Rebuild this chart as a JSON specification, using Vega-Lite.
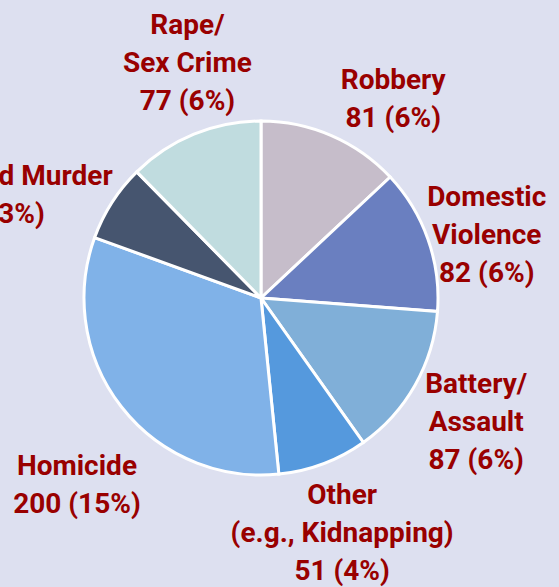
{
  "$schema": "https://vega.github.io/schema/vega-lite/v6.json",
  "width": 522,
  "height": 578,
  "autosize": {"type": "none"},
  "padding": {"left": 0, "top": 9, "right": 37, "bottom": 0},
  "background": "#dde0f0",
  "config": {"view": {"stroke": null}, "text": {"font": "Roboto", "fontWeight": "bold", "fontSize": 28, "lineBreak": "\n", "lineHeight": 38, "color": "#990000", "align": "center", "baseline": "middle"}},
  "data": {
    "values": [
      {"category": "Robbery", "value": 81, "order": 1, "label": "Robbery\n81 (6%)"},
      {"category": "Domestic Violence", "value": 82, "order": 2, "label": "Domestic\nViolence\n82 (6%)"},
      {"category": "Battery/Assault", "value": 87, "order": 3, "label": "Battery/\nAssault\n87 (6%)"},
      {"category": "Other", "value": 51, "order": 4, "label": "Other\n(e.g., Kidnapping)\n51 (4%)"},
      {"category": "Homicide", "value": 200, "order": 5, "label": "Homicide\n200 (15%)"},
      {"category": "Attempted Murder", "value": 44, "order": 6, "label": "Attempted Murder\n44 (3%)"},
      {"category": "Rape/Sex Crime", "value": 77, "order": 7, "label": "Rape/\nSex Crime\n77 (6%)"}
    ]
  },
  "encoding": {
    "theta": {"field": "value", "type": "quantitative", "stack": true},
    "order": {"field": "order", "type": "quantitative"}
  },
  "layer": [
    {
      "mark": {"type": "arc", "outerRadius": 177, "stroke": "white", "strokeWidth": 3},
      "encoding": {
        "color": {
          "field": "category",
          "type": "nominal",
          "scale": {
            "domain": ["Robbery", "Domestic Violence", "Battery/Assault", "Other", "Homicide", "Attempted Murder", "Rape/Sex Crime"],
            "range": ["#c6bdca", "#6a7fc0", "#80afd8", "#5599dd", "#80b2e8", "#46556f", "#c0dcdf"]
          },
          "legend": null
        }
      }
    },
    {
      "mark": {"type": "text", "radius": 238, "thetaOffset": 0.18, "dy": -19},
      "encoding": {"text": {"condition": {"test": "datum.category === 'Robbery'", "field": "label"}, "value": ""}}
    },
    {
      "mark": {"type": "text", "radius": 234, "thetaOffset": 0.072, "dy": -38},
      "encoding": {"text": {"condition": {"test": "datum.category === 'Domestic Violence'", "field": "label"}, "value": ""}}
    },
    {
      "mark": {"type": "text", "radius": 249, "thetaOffset": 0.012, "dy": -38},
      "encoding": {"text": {"condition": {"test": "datum.category === 'Battery/Assault'", "field": "label"}, "value": ""}}
    },
    {
      "mark": {"type": "text", "radius": 250, "thetaOffset": 0.028, "dy": -38},
      "encoding": {"text": {"condition": {"test": "datum.category === 'Other'", "field": "label"}, "value": ""}}
    },
    {
      "mark": {"type": "text", "radius": 263, "thetaOffset": -0.134, "dy": -19},
      "encoding": {"text": {"condition": {"test": "datum.category === 'Homicide'", "field": "label"}, "value": ""}}
    },
    {
      "mark": {"type": "text", "radius": 283, "thetaOffset": -0.202, "dy": -19},
      "encoding": {"text": {"condition": {"test": "datum.category === 'Attempted Murder'", "field": "label"}, "value": ""}}
    },
    {
      "mark": {"type": "text", "radius": 245, "thetaOffset": 0.084, "dy": -38},
      "encoding": {"text": {"condition": {"test": "datum.category === 'Rape/Sex Crime'", "field": "label"}, "value": ""}}
    }
  ]
}
